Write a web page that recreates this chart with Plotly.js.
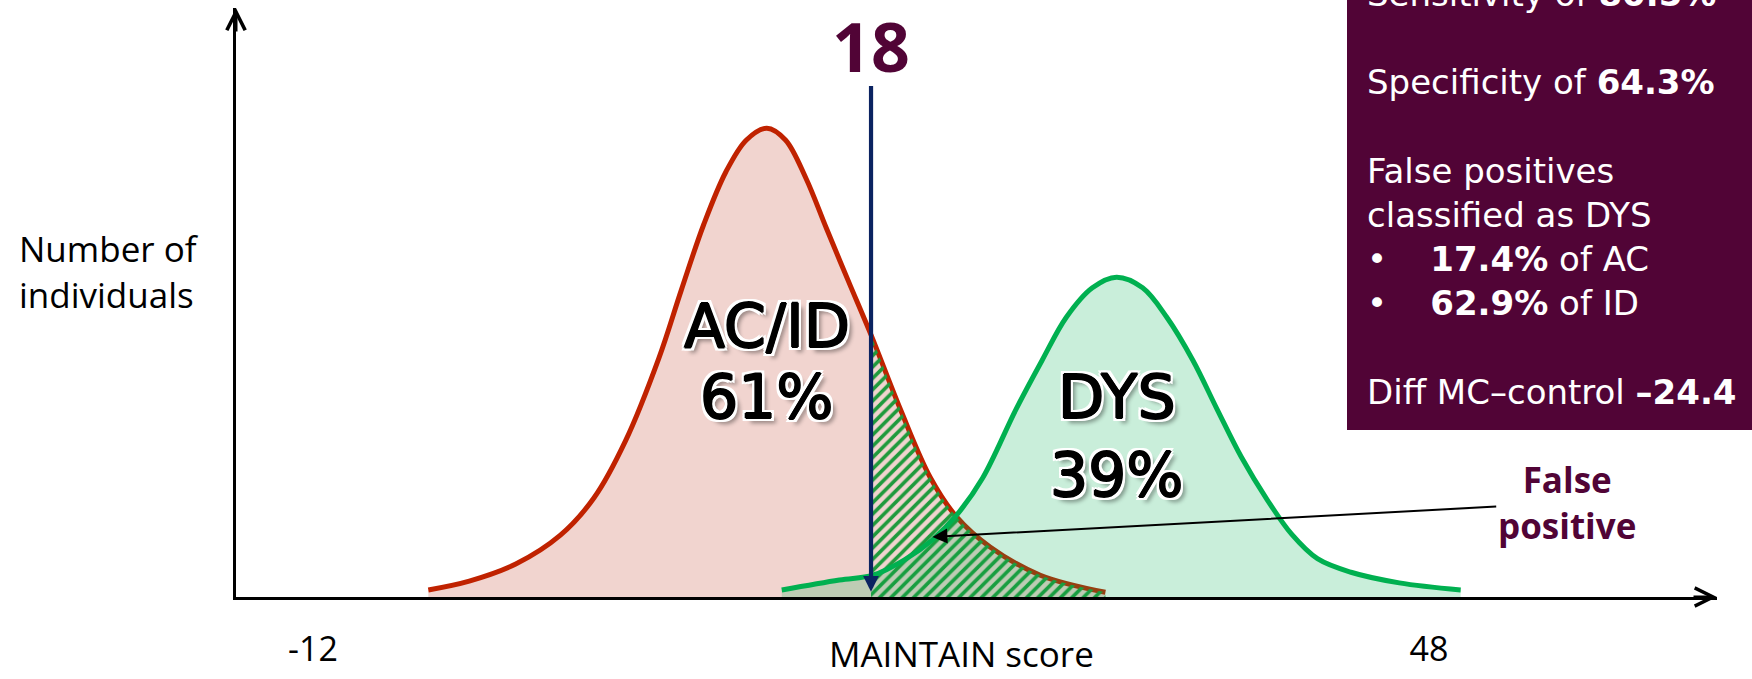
<!DOCTYPE html>
<html><head><meta charset="utf-8">
<script src="https://cdn.plot.ly/plotly-3.0.1.min.js"></script>
<style>html,body{margin:0;padding:0;background:#fff;} #chart{width:1752px;height:679px;}</style>
</head><body><div id="chart"></div>
<script>
// ---- data (MAINTAIN score on x, relative number of individuals on y)
const acidX = [-5.8, -3.6, -1.1, 1.3, 3.1, 4.8, 6.6, 7.8, 9.0, 10.2, 11.3, 12.4, 13.4, 14.5, 15.6, 16.8, 18.0, 19.6, 21.2, 22.6, 24.4, 27.1, 30.6];
const acidY = [1.2, 2.7, 5.6, 10.5, 16.8, 26.5, 40.6, 52.1, 63.2, 72.2, 77.6, 79.6, 77.6, 71.1, 62.6, 53.5, 44.5, 31.7, 20.2, 13.6, 8.5, 3.7, 0.8];
const dysX = [13.2, 16.3, 18.1, 19.8, 21.3, 22.6, 24.0, 25.8, 27.2, 28.5, 29.9, 31.2, 32.6, 33.9, 35.3, 36.6, 37.9, 39.3, 40.6, 42.0, 43.8, 46.4, 49.7];
const dysY = [1.2, 2.9, 3.7, 6.3, 9.7, 13.9, 20.2, 31.9, 40.2, 47.5, 52.5, 54.3, 52.5, 47.5, 40.2, 31.9, 23.8, 16.5, 10.7, 6.5, 4.2, 2.4, 1.2];
const cutoff = 18;
const tickValues = [-12, 48];
const tickLabels = ['-12', '48'];
const xTitle = 'MAINTAIN score';
const yTitle = ['Number of', 'individuals'];
const groupNames = ['AC/ID', 'DYS'];
const groupShares = ['61%', '39%'];
const sensitivity = '80.5%';
const specificity = '64.3%';
const fpAC = '17.4%';
const fpID = '62.9%';
const diffMC = '\u201324.4';

// ---- styling / layout helpers
const MAROON = '#510436';
const FONT = 'Open Sans, Noto Sans, sans-serif';
const BOXFONT = 'DejaVu Sans, sans-serif';
const W = 1752, H = 679, ML = 236, MR = 35, MT = 8, MB = 82;
const plotW = W - ML - MR, plotH = H - MT - MB;
const px = p => (p - ML) / plotW;      // page pixel -> paper x
const py = p => (H - MB - p) / plotH;  // page pixel -> paper y

const hatchX = acidX.filter(x => x >= cutoff);
const hatchY = acidY.filter((y, i) => acidX[i] >= cutoff);

const traces = [
  {x: acidX, y: acidY, mode: 'lines', fill: 'tozeroy', fillcolor: '#f1d4cf',
   line: {color: '#c02200', width: 5, shape: 'spline', smoothing: 1}, hoverinfo: 'skip'},
  {x: hatchX, y: hatchY, mode: 'lines', fill: 'tozeroy', fillcolor: 'rgba(0,0,0,0)',
   fillpattern: {shape: '/', fgcolor: '#1f9a3c', bgcolor: 'rgba(0,0,0,0)', size: 8, solidity: 0.45, fillmode: 'replace'},
   line: {width: 0, shape: 'spline', smoothing: 1}, hoverinfo: 'skip'},
  {x: dysX, y: dysY, mode: 'lines', fill: 'tozeroy', fillcolor: 'rgba(0,176,80,0.21)',
   line: {color: '#00b050', width: 5, shape: 'spline', smoothing: 1}, hoverinfo: 'skip'}
];

const labelShadow = '0.9px 0 0 #000, -0.9px 0 0 #000, 0 0.9px 0 #000, 0 -0.9px 0 #000, ' +
  '-3px -3px 0 #fff, 3px -3px 0 #fff, -3px 3px 0 #fff, 3px 3px 0 #fff, 0 -3px 0 #fff, 0 3px 0 #fff, -3px 0 0 #fff, 3px 0 0 #fff, ' +
  '5px 5px 4px rgba(0,0,0,0.4)';
const labelFont = {family: BOXFONT, size: 60, color: '#000', shadow: labelShadow};

const nb = '\u00a0\u00a0\u00a0\u00a0';
const boxText = [
  'Sensitivity of <b>' + sensitivity + '</b>',
  '\u00a0',
  'Specificity of <b>' + specificity + '</b>',
  '\u00a0',
  'False positives',
  'classified as DYS',
  '\u2022' + nb + '<b>' + fpAC + '</b> of AC',
  '\u2022' + nb + '<b>' + fpID + '</b> of ID',
  '\u00a0',
  'Diff MC\u2013control <b>' + diffMC + '</b>'
].join('<br>');

const peakX = (xs, ys) => xs[ys.indexOf(Math.max(...ys))];

const annotations = [
  // axis arrow heads
  {xref: 'paper', yref: 'paper', x: 1, y: 0, ax: -25, ay: 0, axref: 'pixel', ayref: 'pixel', text: '',
   showarrow: true, arrowhead: 5, arrowsize: 1.2, arrowwidth: 3, arrowcolor: '#000'},
  {xref: 'paper', yref: 'paper', x: 0, y: 1, ax: 0, ay: 25, axref: 'pixel', ayref: 'pixel', text: '',
   showarrow: true, arrowhead: 5, arrowsize: 1.2, arrowwidth: 3, arrowcolor: '#000'},
  // cut-off line
  {xref: 'x', yref: 'y', x: cutoff, y: 0.9, axref: 'x', ayref: 'y', ax: cutoff, ay: 87, text: '',
   showarrow: true, arrowhead: 2, arrowsize: 0.75, arrowwidth: 4.2, arrowcolor: '#0b2361'},
  {xref: 'x', yref: 'paper', x: cutoff, y: py(45), yanchor: 'middle', text: '<b>' + cutoff + '</b>', showarrow: false,
   font: {family: FONT, size: 68, color: MAROON}},
  // false positive pointer
  {xref: 'x', yref: 'y', x: 21.3, y: 10.2, axref: 'x', ayref: 'y', ax: 55.4, ay: 16.0,
   text: '<b>False<br>positive</b>', font: {family: FONT, size: 35, color: MAROON},
   showarrow: true, arrowhead: 2, arrowsize: 1.5, arrowwidth: 2, arrowcolor: '#000'},
  // group labels
  {xref: 'x', yref: 'y', x: peakX(acidX, acidY), y: 46.0, text: groupNames[0], showarrow: false, font: labelFont},
  {xref: 'x', yref: 'y', x: peakX(acidX, acidY), y: 34.0, text: groupShares[0], showarrow: false, font: labelFont},
  {xref: 'x', yref: 'y', x: peakX(dysX, dysY), y: 34.0, text: groupNames[1], showarrow: false, font: labelFont},
  {xref: 'x', yref: 'y', x: peakX(dysX, dysY), y: 20.7, text: groupShares[1], showarrow: false, font: labelFont},
  // axis titles
  {xref: 'paper', yref: 'paper', x: px(17), y: py(271), xanchor: 'left', yanchor: 'middle', align: 'left',
   text: yTitle.join('<br>'), showarrow: false, font: {family: FONT, size: 35, color: '#000'}},
  {xref: 'paper', yref: 'paper', x: px(961), y: py(653), xanchor: 'center', yanchor: 'middle',
   text: xTitle, showarrow: false, font: {family: FONT, size: 35, color: '#000'}},
  // info box text
  {xref: 'paper', yref: 'paper', x: px(1365), y: py(414), xanchor: 'left', yanchor: 'bottom', align: 'left',
   text: boxText, showarrow: false, font: {family: BOXFONT, size: 34, color: '#fff'}}
];

const layout = {
  width: W, height: H, margin: {l: ML, r: MR, t: MT, b: MB, pad: 0},
  paper_bgcolor: '#fff', plot_bgcolor: 'rgba(0,0,0,0)', showlegend: false,
  xaxis: {range: [-16.14, 63.48], showline: true, linecolor: '#000', linewidth: 3, showgrid: false, zeroline: false,
          tickvals: tickValues, ticktext: tickLabels, ticks: '', ticklabelstandoff: 20,
          tickfont: {family: FONT, size: 34, color: '#000'}, automargin: false, fixedrange: true},
  yaxis: {range: [0, 100], showline: true, linecolor: '#000', linewidth: 3, showgrid: false, zeroline: false,
          showticklabels: false, ticks: '', automargin: false, fixedrange: true},
  shapes: [
    {type: 'rect', xref: 'paper', yref: 'paper', x0: px(1347), x1: px(1760), y0: py(430), y1: py(-5),
     fillcolor: MAROON, line: {width: 0}, layer: 'above'}
  ],
  annotations: annotations
};

Plotly.newPlot('chart', traces, layout, {displayModeBar: false, staticPlot: true});
</script>
</body></html>
